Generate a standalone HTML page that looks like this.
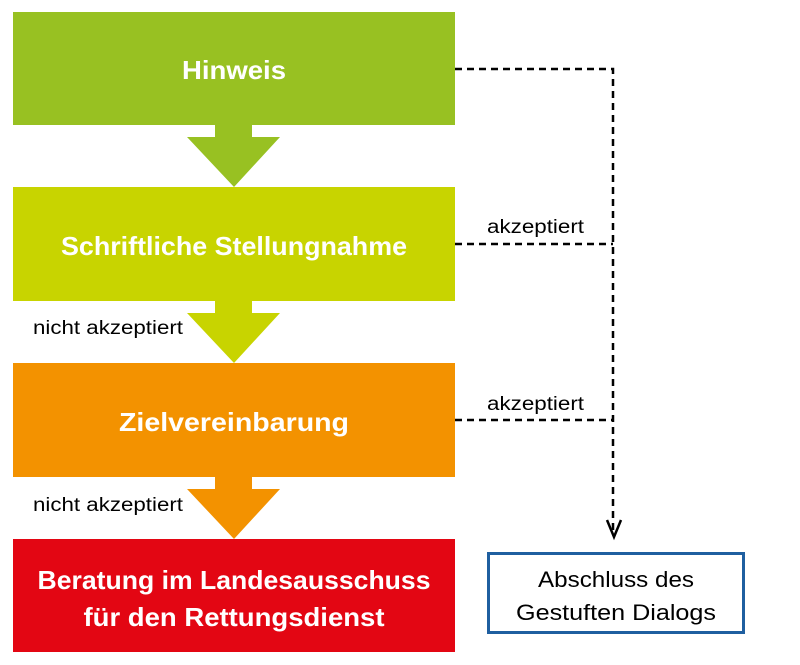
<!DOCTYPE html>
<html><head><meta charset="utf-8"><style>html,body{margin:0;padding:0;background:#fff}svg{display:block}</style></head>
<body>
<svg width="800" height="665" viewBox="0 0 800 665" xmlns="http://www.w3.org/2000/svg" font-family="Liberation Sans, sans-serif">
<rect x="13" y="12" width="442" height="113" fill="#98c122"/>
<polygon points="215,125 252,125 252,137 280,137 234,187 187,137 215,137" fill="#98c122"/>
<rect x="13" y="187" width="442" height="114" fill="#c8d400"/>
<polygon points="215,301 252,301 252,313 280,313 234,363 187,313 215,313" fill="#c8d400"/>
<rect x="13" y="363" width="442" height="114" fill="#f39200"/>
<polygon points="215,477 252,477 252,489 280,489 234,539 187,489 215,489" fill="#f39200"/>
<rect x="13" y="539" width="442" height="113" fill="#e30613"/>
<g fill="#fff" font-weight="bold" text-anchor="middle" font-size="26">
<text x="234" y="79" textLength="104" lengthAdjust="spacingAndGlyphs">Hinweis</text>
<text x="234" y="255" textLength="346" lengthAdjust="spacingAndGlyphs">Schriftliche Stellungnahme</text>
<text x="234" y="431" textLength="230" lengthAdjust="spacingAndGlyphs">Zielvereinbarung</text>
<text x="234" y="589" textLength="393" lengthAdjust="spacingAndGlyphs">Beratung im Landesausschuss</text>
<text x="234" y="626" textLength="301" lengthAdjust="spacingAndGlyphs">für den Rettungsdienst</text>
</g>
<g stroke="#000" stroke-width="2.5" stroke-dasharray="7,5" fill="none">
<polyline points="455,69 613,69 613,530"/>
<line x1="455" y1="244" x2="613" y2="244"/>
<line x1="455" y1="420" x2="613" y2="420"/>
</g>
<polyline points="607,520 614,537 621,520" stroke="#000" stroke-width="2.5" fill="none"/>
<g font-size="19" fill="#000">
<text x="487" y="233" textLength="97" lengthAdjust="spacingAndGlyphs">akzeptiert</text>
<text x="487" y="410" textLength="97" lengthAdjust="spacingAndGlyphs">akzeptiert</text>
<text x="33" y="334" textLength="150" lengthAdjust="spacingAndGlyphs">nicht akzeptiert</text>
<text x="33" y="511" textLength="150" lengthAdjust="spacingAndGlyphs">nicht akzeptiert</text>
</g>
<rect x="488.5" y="553.5" width="255" height="79" fill="#fff" stroke="#1f5fa0" stroke-width="3"/>
<g font-size="22" fill="#000" text-anchor="middle">
<text x="616" y="587" textLength="156" lengthAdjust="spacingAndGlyphs">Abschluss des</text>
<text x="616" y="620" textLength="200" lengthAdjust="spacingAndGlyphs">Gestuften Dialogs</text>
</g>
</svg>
</body></html>
